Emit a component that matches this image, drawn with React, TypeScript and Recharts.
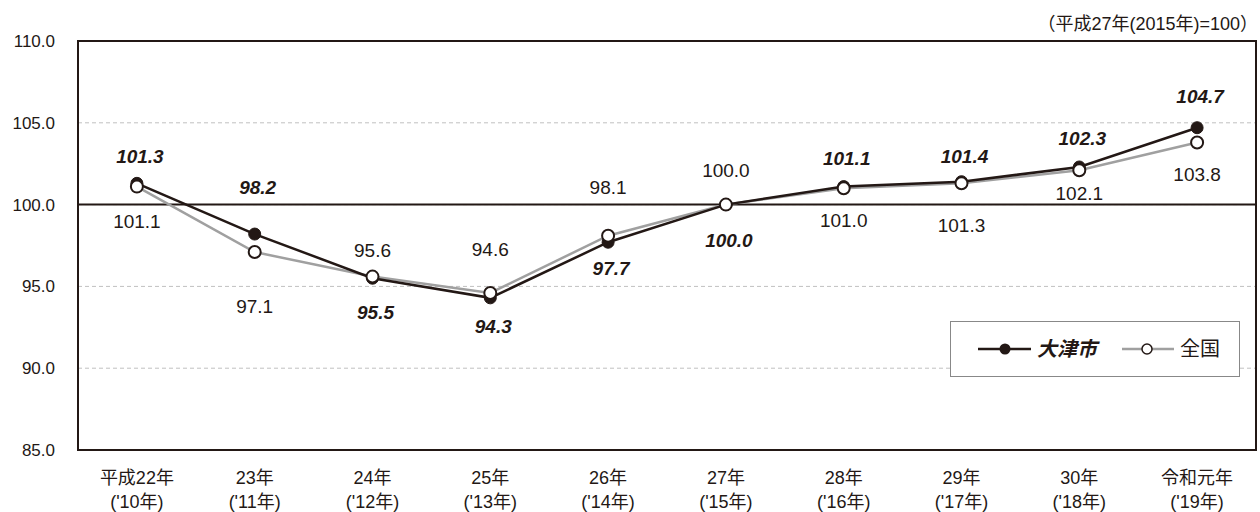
import { LineChart, Line, XAxis, YAxis, CartesianGrid, ReferenceLine, ReferenceArea } from "recharts";

// data
const eraYears = ["平成22年", "23年", "24年", "25年", "26年", "27年", "28年", "29年", "30年", "令和元年"];
const westernYears = ["('10年)", "('11年)", "('12年)", "('13年)", "('14年)", "('15年)", "('16年)", "('17年)", "('18年)", "('19年)"];
const otsu = [101.3, 98.2, 95.5, 94.3, 97.7, 100.0, 101.1, 101.4, 102.3, 104.7];
const national = [101.1, 97.1, 95.6, 94.6, 98.1, 100.0, 101.0, 101.3, 102.1, 103.8];
const yTicks = [85, 90, 95, 100, 105, 110];

// label placement (vertical offset from each point, px)
const otsuLabelDy = [-27, -47, 34, 28, 26, 35, -29, -26, -29, -32];
const nationalLabelDy = [34, 54, -27, -44, -49, -35, 32, 42, 23, 32];

const INK = "#231815";
const GRAY = "#a0a0a0";
const FONT = "'Liberation Sans', Arial, 'Noto Sans CJK JP', sans-serif";

const data = eraYears.map((year, i) => ({
  year,
  western: westernYears[i],
  otsu: otsu[i],
  national: national[i],
}));

const XTick = (props: any) => {
  const { x, y, payload, index } = props;
  return (
    <g>
      <text x={x} y={y + 26} textAnchor="middle" fontSize={18} fill={INK} fontFamily={FONT}>
        {payload.value}
      </text>
      <text x={x} y={y + 50} textAnchor="middle" fontSize={18} fill={INK} fontFamily={FONT}>
        {westernYears[index]}
      </text>
    </g>
  );
};

const otsuLabel = (props: any) => {
  const { x, y, value, index } = props;
  return (
    <text
      x={x + 3}
      y={y + otsuLabelDy[index]}
      dy={7}
      textAnchor="middle"
      fontSize={19}
      fontWeight="bold"
      fontStyle="italic"
      fill={INK}
      fontFamily={FONT}
    >
      {Number(value).toFixed(1)}
    </text>
  );
};

const nationalLabel = (props: any) => {
  const { x, y, value, index } = props;
  return (
    <text
      x={x}
      y={y + nationalLabelDy[index]}
      dy={7}
      textAnchor="middle"
      fontSize={19}
      fill={INK}
      fontFamily={FONT}
    >
      {Number(value).toFixed(1)}
    </text>
  );
};

const LegendBox = () => (
  <div
    style={{
      position: "absolute",
      left: 950,
      top: 321,
      width: 290,
      height: 56,
      border: "1.5px solid #888",
      background: "#fff",
      boxSizing: "border-box",
    }}
  >
    <svg width={287} height={53} style={{ display: "block" }}>
      <line x1={27} x2={80} y1={27} y2={27} stroke={INK} strokeWidth={2.5} />
      <circle cx={54} cy={27} r={5.5} fill={INK} />
      <text x={86} y={34} fontSize={20} fontWeight="bold" fontStyle="italic" fill={INK} fontFamily={FONT}>
        大津市
      </text>
      <line x1={171} x2={223} y1={27} y2={27} stroke={GRAY} strokeWidth={2.5} />
      <circle cx={196} cy={27} r={5} fill="#fff" stroke={INK} strokeWidth={1.5} />
      <text x={229} y={34} fontSize={20} fill={INK} fontFamily={FONT}>
        全国
      </text>
    </svg>
  </div>
);

export default function App() {
  return (
    <div style={{ position: "absolute", left: 0, top: 0, width: 1260, height: 512, background: "#fff" }}>
      <div
        style={{
          position: "absolute",
          right: 2,
          top: 9,
          fontFamily: FONT,
          fontSize: 18,
          color: INK,
        }}
      >
        （平成27年(2015年)=100）
      </div>
      <LineChart width={1260} height={512} data={data} margin={{ top: 41, right: 4, left: 0, bottom: 2 }}>
        <CartesianGrid vertical={false} stroke="#c0c0c0" strokeDasharray="4 3" />
        <XAxis
          dataKey="year"
          scale="band"
          height={60}
          tick={<XTick />}
          tickLine={false}
          axisLine={{ stroke: INK, strokeWidth: 2 }}
          interval={0}
        />
        <YAxis
          domain={[85, 110]}
          ticks={yTicks}
          width={78}
          tickSize={0}
          tickMargin={23}
          tickLine={false}
          axisLine={{ stroke: INK, strokeWidth: 2 }}
          tickFormatter={(v: number) => v.toFixed(1)}
          tick={{ fontSize: 17, fill: INK, fontFamily: FONT }}
        />
        <ReferenceArea y1={85} y2={110} fill="none" stroke={INK} strokeWidth={2} ifOverflow="visible" />
        <ReferenceLine y={100} stroke={INK} strokeWidth={2} />
        <Line
          dataKey="national"
          name="全国"
          stroke={GRAY}
          strokeWidth={2.5}
          dot={false}
          label={nationalLabel}
          isAnimationActive={false}
        />
        <Line
          dataKey="otsu"
          name="大津市"
          stroke={INK}
          strokeWidth={2.5}
          dot={{ r: 6, fill: INK, stroke: INK, strokeWidth: 1 }}
          label={otsuLabel}
          isAnimationActive={false}
        />
        <Line
          dataKey="national"
          legendType="none"
          stroke="none"
          dot={{ r: 6, fill: "#fff", stroke: INK, strokeWidth: 2 }}
          isAnimationActive={false}
        />
      </LineChart>
      <LegendBox />
    </div>
  );
}
